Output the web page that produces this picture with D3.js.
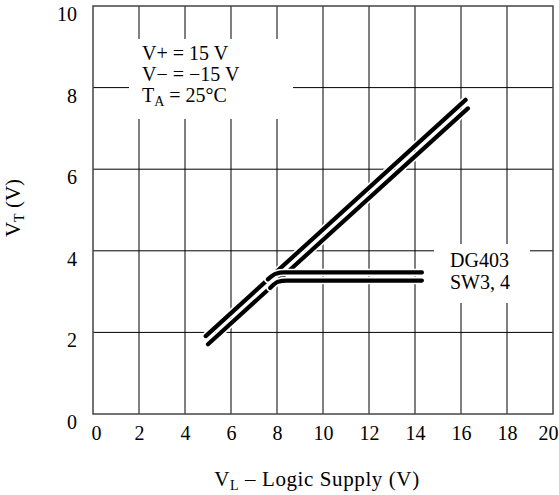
<!DOCTYPE html>
<html><head><meta charset="utf-8">
<script src="https://cdn.jsdelivr.net/npm/d3@7/dist/d3.min.js"></script>
<style>body{margin:0;background:#fff}svg{display:block}svg text{font-family:'Liberation Serif','Times New Roman',Times,'DejaVu Serif',serif !important;fill:#000}</style>
</head><body><svg id="c" width="559" height="495"></svg>
<script>
const xTicks = [0,2,4,6,8,10,12,14,16,18,20];
const yTicks = [0,2,4,6,8,10];
const diagUpperX = [4.9, 16.2];
const diagUpperY = [1.91, 7.70];
const diagLowerX = [5.0, 16.3];
const diagLowerY = [1.71, 7.49];
const flatUpperX = [7.6, 7.95, 8.3, 8.7, 14.3];
const flatUpperY = [3.30, 3.44, 3.47, 3.47, 3.47];
const flatLowerX = [7.7, 8.05, 8.4, 8.8, 14.3];
const flatLowerY = [3.09, 3.24, 3.27, 3.27, 3.27];
const legendLines = ["V+ = 15 V", "V\u2212 = \u221215 V"];

const FONT = "'Liberation Serif','Times New Roman',Times,'DejaVu Serif',serif";
const svg = d3.select("#c");
const L = 93, R = 553, T = 6, B = 414;
const x = d3.scaleLinear().domain([0,20]).range([L,R]);
const y = d3.scaleLinear().domain([0,10]).range([B,T]);

// grid
const g = svg.append("g");
g.selectAll("line.v").data(xTicks.slice(1,-1)).join("line")
  .attr("x1",d=>x(d)).attr("x2",d=>x(d)).attr("y1",T).attr("y2",B)
  .attr("stroke","#000").attr("stroke-width",1);
g.selectAll("line.h").data(yTicks.slice(1,-1)).join("line")
  .attr("y1",d=>y(d)).attr("y2",d=>y(d)).attr("x1",L).attr("x2",R)
  .attr("stroke","#000").attr("stroke-width",1);

// blank boxes
svg.append("rect").attr("x",129).attr("y",39).attr("width",164).attr("height",80).attr("fill","#fff");
svg.append("rect").attr("x",434).attr("y",244).attr("width",96).attr("height",59).attr("fill","#fff");

// frame
svg.append("rect").attr("x",L).attr("y",T).attr("width",R-L).attr("height",B-T)
  .attr("fill","none").attr("stroke","#444").attr("stroke-width",1.5);

// axes (tick labels only)
const xAxis = d3.axisBottom(x).tickValues(xTicks).tickSize(0).tickPadding(0);
const xa = svg.append("g").attr("transform",`translate(0,${B})`).call(xAxis)
  .attr("font-family",FONT).attr("font-size",20);
xa.select(".domain").remove();
xa.selectAll("text").attr("dy",null).attr("y",26)
  .attr("x",d=>d===20?-5:(d===0?3:0));
const yAxis = d3.axisLeft(y).tickValues(yTicks).tickSize(0).tickPadding(0);
const ya = svg.append("g").attr("transform",`translate(77,0)`).call(yAxis)
  .attr("font-family",FONT).attr("font-size",20);
ya.select(".domain").remove();
ya.selectAll("text").attr("dy","0.32em").attr("y",8);

// curves
const line = d3.line().x(d=>x(d[0])).y(d=>y(d[1])).curve(d3.curveMonotoneX);
const series = [
  d3.zip(diagUpperX, diagUpperY),
  d3.zip(diagLowerX, diagLowerY),
  d3.zip(flatUpperX, flatUpperY),
  d3.zip(flatLowerX, flatLowerY)
];
series.forEach(s=>{
  svg.append("path").attr("d",line(s)).attr("fill","none").attr("stroke","#fff")
    .attr("stroke-width",7.5).attr("stroke-linecap","round");
  svg.append("path").attr("d",line(s)).attr("fill","none").attr("stroke","#000")
    .attr("stroke-width",4.2).attr("stroke-linecap","round");
});

// legend text
const lg = svg.append("g").attr("font-size",20).attr("font-family",FONT);
legendLines.forEach((t,i)=>{
  lg.append("text").attr("x",142).attr("y",60+i*21).text(t);
});
const t3 = lg.append("text").attr("x",142).attr("y",102);
t3.append("tspan").text("T");
t3.append("tspan").attr("font-size",14).attr("dy",4).text("A");
t3.append("tspan").attr("dy",-4).text(" = 25\u00B0C");

const dg = svg.append("g").attr("font-size",20).attr("font-family",FONT);
dg.append("text").attr("x",450).attr("y",267).text("DG403");
dg.append("text").attr("x",450).attr("y",289).text("SW3, 4");

// axis titles
const xt = svg.append("text").attr("x",317).attr("y",486).attr("text-anchor","middle").attr("font-size",21)
  .attr("letter-spacing",0.6).attr("font-family",FONT);
xt.append("tspan").text("V");
xt.append("tspan").attr("font-size",14).attr("dy",4).text("L");
xt.append("tspan").attr("dy",-4).text(" \u2013 Logic Supply (V)");

const yt = svg.append("text").attr("transform","translate(20,208) rotate(-90)").attr("text-anchor","middle").attr("font-size",21).attr("font-family",FONT);
yt.append("tspan").text("V");
yt.append("tspan").attr("font-size",14).attr("dy",4).text("T");
yt.append("tspan").attr("dy",-4).text(" (V)");
</script></body></html>
